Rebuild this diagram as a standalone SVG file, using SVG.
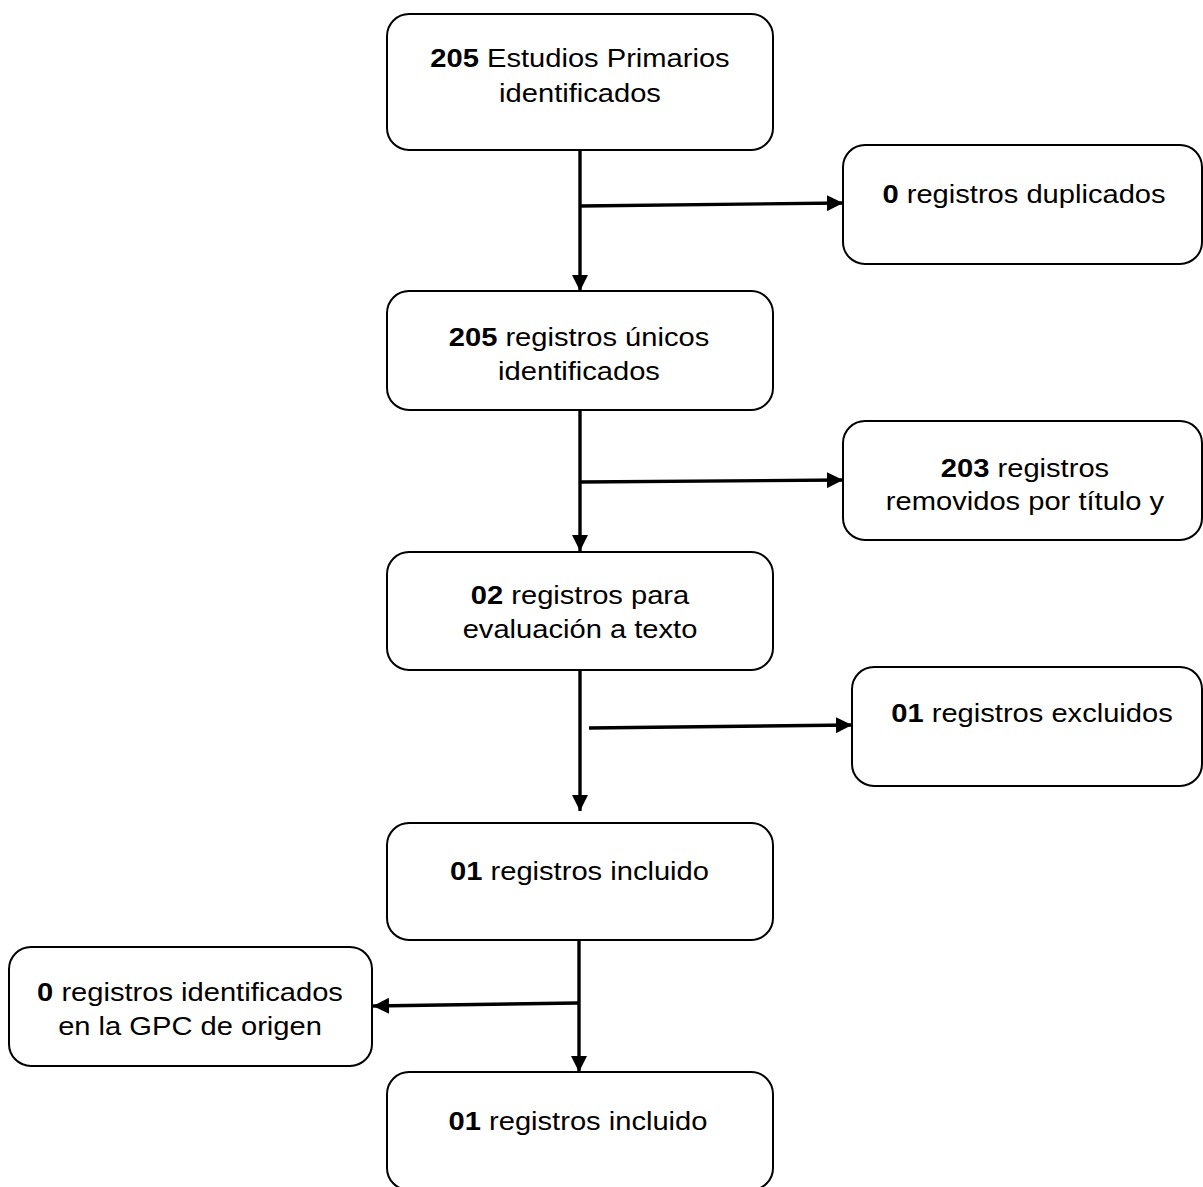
<svg xmlns="http://www.w3.org/2000/svg" width="1203" height="1187" viewBox="0 0 1203 1187">
<defs>
<style>
.box{fill:#fff;stroke:#000;stroke-width:2}
.t{font-family:"Liberation Sans",Arial,sans-serif;font-size:25px;fill:#000;text-anchor:middle}
.b{font-weight:bold}
.c{fill:none;stroke:#000;stroke-width:3.4}
</style>
<marker id="ah" markerUnits="userSpaceOnUse" markerWidth="16" markerHeight="16" viewBox="0 0 16 16" refX="16" refY="8" orient="auto">
<path d="M0,0 L16,8 L0,16 Z" fill="#000"/>
</marker>
</defs>
<rect width="1203" height="1187" fill="#fff"/>
<g id="connectors">
<line class="c" x1="580" y1="150" x2="580" y2="291" marker-end="url(#ah)"/>
<line class="c" x1="580" y1="206" x2="843" y2="203" marker-end="url(#ah)"/>
<line class="c" x1="580" y1="410" x2="580" y2="551" marker-end="url(#ah)"/>
<line class="c" x1="580" y1="482" x2="843" y2="480" marker-end="url(#ah)"/>
<line class="c" x1="580" y1="670" x2="580" y2="811" marker-end="url(#ah)"/>
<line class="c" x1="589" y1="728" x2="852" y2="725" marker-end="url(#ah)"/>
<line class="c" x1="579" y1="940" x2="579" y2="1072" marker-end="url(#ah)"/>
<line class="c" x1="578" y1="1003" x2="373" y2="1006" marker-end="url(#ah)"/>
</g>
<g id="n1">
<rect class="box" x="387" y="14" width="386" height="136" rx="22"/>
<text class="t" transform="translate(580,0) scale(1.165,1)" y="67"><tspan class="b">205</tspan> Estudios Primarios</text>
<text class="t" transform="translate(580,0) scale(1.165,1)" y="102">identificados</text>
</g>
<g id="n_dup">
<rect class="box" x="843" y="145" width="359" height="119" rx="22"/>
<text class="t" transform="translate(1024,0) scale(1.165,1)" y="203"><tspan class="b">0</tspan> registros duplicados</text>
</g>
<g id="n2">
<rect class="box" x="387" y="291" width="386" height="119" rx="22"/>
<text class="t" transform="translate(579,0) scale(1.165,1)" y="346"><tspan class="b">205</tspan> registros únicos</text>
<text class="t" transform="translate(579,0) scale(1.165,1)" y="380">identificados</text>
</g>
<g id="n_rem">
<rect class="box" x="843" y="421" width="359" height="119" rx="22"/>
<text class="t" transform="translate(1025,0) scale(1.165,1)" y="477"><tspan class="b">203</tspan> registros</text>
<text class="t" transform="translate(1025,0) scale(1.165,1)" y="510">removidos por título y</text>
</g>
<g id="n3">
<rect class="box" x="387" y="552" width="386" height="118" rx="22"/>
<text class="t" transform="translate(580,0) scale(1.165,1)" y="604"><tspan class="b">02</tspan> registros para</text>
<text class="t" transform="translate(580,0) scale(1.165,1)" y="638">evaluación a texto</text>
</g>
<g id="n_exc">
<rect class="box" x="852" y="667" width="350" height="119" rx="22"/>
<text class="t" transform="translate(1032,0) scale(1.165,1)" y="722"><tspan class="b">01</tspan> registros excluidos</text>
</g>
<g id="n4">
<rect class="box" x="387" y="823" width="386" height="117" rx="22"/>
<text class="t" transform="translate(579.5,0) scale(1.165,1)" y="880"><tspan class="b">01</tspan> registros incluido</text>
</g>
<g id="n_gpc">
<rect class="box" x="9" y="947" width="363" height="119" rx="22"/>
<text class="t" transform="translate(190,0) scale(1.165,1)" y="1001"><tspan class="b">0</tspan> registros identificados</text>
<text class="t" transform="translate(190,0) scale(1.165,1)" y="1035">en la GPC de origen</text>
</g>
<g id="n5">
<rect class="box" x="387" y="1072" width="386" height="118" rx="22"/>
<text class="t" transform="translate(578,0) scale(1.165,1)" y="1130"><tspan class="b">01</tspan> registros incluido</text>
</g>
</svg>
